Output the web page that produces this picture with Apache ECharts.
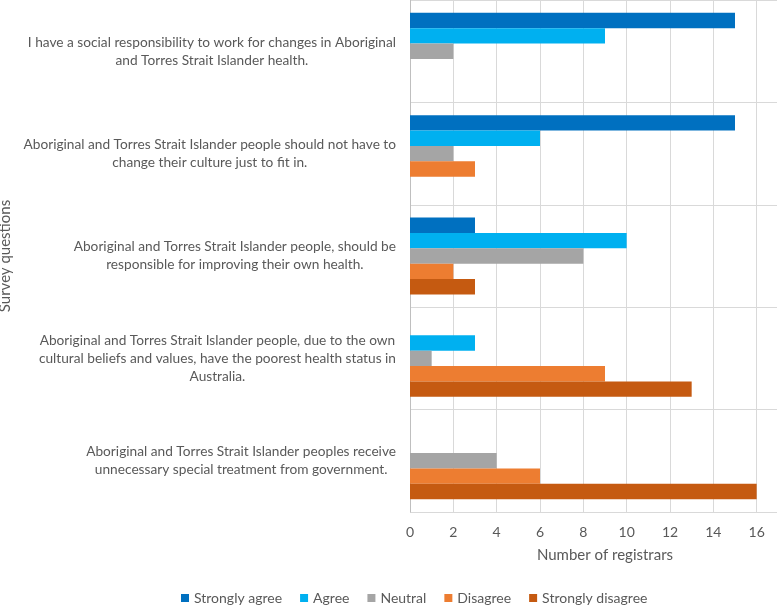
<!DOCTYPE html>
<html>
<head>
<meta charset="utf-8">
<script src="https://cdn.jsdelivr.net/npm/echarts@6/dist/echarts.min.js"></script>
<style>html,body{margin:0;padding:0;background:#fff}#chart{width:777px;height:606px}</style>
</head>
<body>
<div id="chart"></div>
<script>
const categories = [
  "I have a social responsibility to work for changes in Aboriginal\nand Torres Strait Islander health.",
  "Aboriginal and Torres Strait Islander people should not have to\nchange their culture just to fit in.",
  "Aboriginal and Torres Strait Islander people, should be\nresponsible for improving their own health.",
  "Aboriginal and Torres Strait Islander people, due to the own\ncultural beliefs and values, have the poorest health status in\nAustralia.",
  "Aboriginal and Torres Strait Islander peoples receive\nunnecessary special treatment from government."
];
const seriesNames = ["Strongly agree", "Agree", "Neutral", "Disagree", "Strongly disagree"];
const stronglyAgree = [15, 15, 3, 0, 0];
const agree = [9, 6, 10, 3, 0];
const neutral = [2, 2, 8, 1, 4];
const disagree = [0, 3, 2, 9, 6];
const stronglyDisagree = [0, 0, 3, 13, 16];
const xTicks = { min: 0, max: 18, interval: 2 };
const colors = ["#0070C0", "#00B0F0", "#A5A5A5", "#ED7D31", "#C55A11"];

const values = [stronglyAgree, agree, neutral, disagree, stronglyDisagree];
const font = "Lato";
const textColor = "#595959";
const chart = echarts.init(document.getElementById('chart'));
chart.setOption({
  animation: false,
  textStyle: { fontFamily: font },
  grid: { left: 410, right: -23, top: 0, bottom: 94, containLabel: false, outerBoundsMode: 'none' },
  legend: {
    top: 586, left: 176,
    icon: 'rect', itemWidth: 8, itemHeight: 8, itemGap: 18,
    textStyle: { color: textColor, fontSize: 14, fontFamily: font },
    data: seriesNames
  },
  xAxis: {
    type: 'value', min: xTicks.min, max: xTicks.max, interval: xTicks.interval,
    name: 'Number of registrars', nameLocation: 'middle', nameGap: 36,
    nameTextStyle: { color: textColor, fontSize: 15, fontFamily: font },
    axisLine: { show: false }, axisTick: { show: false },
    axisLabel: { color: textColor, fontSize: 14, margin: 13, fontFamily: font },
    splitLine: { show: true, lineStyle: { color: '#D9D9D9', width: 1 } }
  },
  yAxis: {
    type: 'category', inverse: true, data: categories,
    name: 'Survey questions', nameLocation: 'middle', nameGap: 386,
    nameTextStyle: { color: textColor, fontSize: 15, fontFamily: font },
    axisLine: { show: true, lineStyle: { color: '#BFBFBF' } },
    axisTick: { show: false },
    splitLine: { show: true, lineStyle: { color: '#D9D9D9', width: 1 } },
    axisLabel: {
      color: textColor, fontSize: 13.7, margin: 14, fontFamily: font, lineHeight: 18,
      formatter: function (v) { return v.split('\n').map(l => '{c|' + l + '}').join('\n'); },
      rich: { c: { align: 'center', color: textColor, fontSize: 13.7, lineHeight: 18, fontFamily: font } }
    }
  },
  series: seriesNames.map((n, i) => ({
    name: n, type: 'bar', data: values[i],
    barGap: '0%', barCategoryGap: '25%',
    itemStyle: { color: colors[i] }
  }))
});
</script>
</body>
</html>
